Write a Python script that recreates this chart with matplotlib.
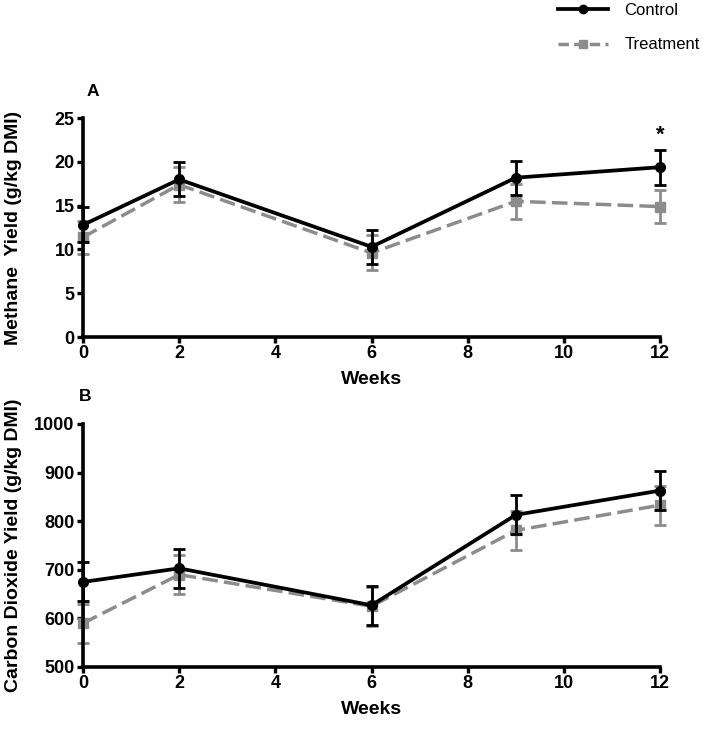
import matplotlib
matplotlib.use("Agg")
import matplotlib.pyplot as plt
from matplotlib.lines import Line2D

weeks = [0, 2, 6, 9, 12]

# panel A: methane yield (g/kg DMI)
ch4_control = [12.8, 18.0, 10.3, 18.2, 19.4]
ch4_control_err = [2.0, 1.95, 1.95, 1.95, 2.0]
ch4_treat = [11.4, 17.4, 9.6, 15.5, 14.9]
ch4_treat_err = [1.9, 2.0, 2.0, 2.0, 1.9]

# panel B: carbon dioxide yield (g/kg DMI)
co2_control = [675, 703, 627, 813, 863]
co2_control_err = [40, 40, 40, 40, 41]
co2_treat = [590, 690, 625, 781, 833]
co2_treat_err = [40, 40, 40, 40, 40]

BLACK = "black"
GREY = "#8c8c8c"
DASH = (0, (4.5, 1.8))
tick_font = ["Liberation Sans Narrow", "Liberation Sans", "DejaVu Sans"]
label_font = ["Liberation Sans", "DejaVu Sans"]

fig = plt.figure(figsize=(7.03, 7.32), dpi=100)
axA = fig.add_axes([0.118, 0.5396, 0.821, 0.299])
axB = fig.add_axes([0.118, 0.0888, 0.821, 0.332])


def draw(ax, ctl, ctl_err, trt, trt_err, ylim, yticks, ylabel):
    ax.errorbar(weeks, trt, yerr=trt_err, color=GREY, ls=DASH, lw=2.5,
                marker="s", ms=6.5, capsize=4, capthick=2, elinewidth=2, zorder=2,
                clip_on=False)
    ax.errorbar(weeks, ctl, yerr=ctl_err, color=BLACK, ls="-", lw=2.7,
                marker="o", ms=7, capsize=4, capthick=2, elinewidth=2, zorder=3,
                clip_on=False)
    ax.set_xlim(0, 12)
    ax.set_xticks([0, 2, 4, 6, 8, 10, 12])
    ax.set_ylim(*ylim)
    ax.set_yticks(yticks)
    for s in ["top", "right"]:
        ax.spines[s].set_visible(False)
    for s in ["left", "bottom"]:
        ax.spines[s].set_linewidth(2.6)
    ax.tick_params(width=2.4, length=4, direction="out", pad=2)
    for lab in ax.get_xticklabels() + ax.get_yticklabels():
        lab.set_fontfamily(tick_font)
        lab.set_fontweight("bold")
        lab.set_fontsize(13)
    ax.set_xlabel("Weeks", fontfamily=tick_font, fontweight="bold", fontsize=14, labelpad=6)
    ax.set_ylabel(ylabel, fontfamily=label_font, fontweight="bold", fontsize=14)
    ax.yaxis.set_label_coords(-0.105, 0.5)


draw(axA, ch4_control, ch4_control_err, ch4_treat, ch4_treat_err,
     (0, 25), [0, 5, 10, 15, 20, 25], "Methane  Yield (g/kg DMI)")
axA.text(12, 23.0, "*", ha="center", va="center", fontsize=16, fontweight="bold",
         fontfamily=label_font)

draw(axB, co2_control, co2_control_err, co2_treat, co2_treat_err,
     (500, 1000), [500, 600, 700, 800, 900, 1000], "Carbon Dioxide Yield (g/kg DMI)")

fig.text(93 / 703, 1 - 92 / 732, "A", fontfamily=label_font, fontweight="bold",
         fontsize=12.5, ha="center", va="center")
fig.text(85 / 703, 1 - 396 / 732, "B", fontfamily=label_font, fontweight="bold",
         fontsize=12.5, ha="center", va="center")

handles = [
    Line2D([], [], color=BLACK, lw=2.7, marker="o", ms=6),
    Line2D([], [], color=GREY, lw=2.5, ls=(0, (3, 1.5)), marker="s", ms=6),
]
fig.legend(handles, ["Control", "Treatment"], loc="upper right",
           bbox_to_anchor=(1.017, 1.016), frameon=False, handlelength=3.0,
           handletextpad=1.0, labelspacing=1.15,
           prop={"family": label_font, "size": 12})

fig.savefig("out.png", dpi=100)
